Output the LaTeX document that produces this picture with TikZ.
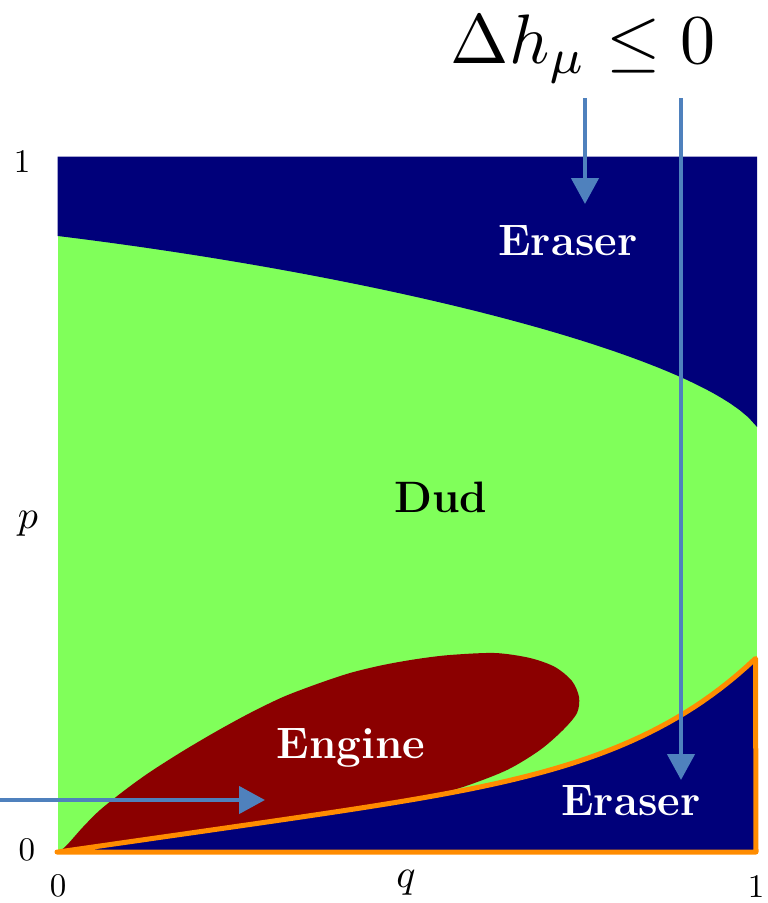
\documentclass[tikz,border=0pt]{standalone}
\usepackage{graphicx}
\usepackage{fontspec}
\usetikzlibrary{arrows.meta}
\definecolor{navyc}{RGB}{0,0,122}
\definecolor{greenc}{RGB}{128,255,90}
\definecolor{enginec}{RGB}{139,0,0}
\definecolor{orangec}{RGB}{255,140,0}
\definecolor{bluec}{RGB}{79,129,189}
\newcommand{\axtext}[1]{\scalebox{3.3}{#1}}
\newcommand{\axvar}[1]{\scalebox{4}{#1}}
\begin{document}
\begin{tikzpicture}[x=1pt,y=-1pt,
  pointer/.style={draw=bluec, line width=4.5pt, -{Triangle[length=26pt,width=27pt]}},
  axlabel/.style={font=\fontsize{10}{12}\selectfont, text=black, inner sep=0pt},
  region/.style={font=\fontsize{44}{50}\selectfont\bfseries, text=white, inner sep=0pt},
  border/.style={draw=orangec, line width=5pt, line join=round, line cap=round}
]
\useasboundingbox (0,0) rectangle (768,903);
% background (Dud)
\fill[greenc] (58,157) rectangle (757,852);
% top eraser
\fill[navyc] (57.5,156.5) -- (757,156.5) --
  plot[domain=1:0, samples=80] ({58+699*\x},{236+86*\x+122*(1-sqrt(1-(\x/1.01)^2))}) -- (57.5,236) -- cycle;
% engine
\fill[enginec] plot[smooth] coordinates
  {(58,852) (66,846) (83,827) (100,810) (125,790) (150,772) (183,751) (217,731) (250,713) (283,697) (317,684) (350,673) (383,665) (417,659) (450,655) (495,653) (530,658) (555,667) (572,681) (579,697) (577,713) (563,730) (540,750) (507,770) (463,787) (420,799)}
  -- plot[domain=0.504:0, samples=40] ({58+698*\x},{852-100*\x-94*\x^6}) -- cycle;
% bottom eraser
\fill[navyc] plot[domain=0:1, samples=80] ({58+698*\x},{852-100*\x-94*\x^6})
  -- (756,852) -- cycle;
% orange border
\draw[border] plot[domain=0:1, samples=80] ({58+698*\x},{852-100*\x-94*\x^6})
  -- (756,852) -- (57,852);
% region labels
\node[region] (er1) at (568,241) {Eraser};
\node[region, text=black] (dud) at (441,497) {Dud};
\node[region] (eng) at (351,748) {Engine};
\node[region] (er2) at (631,801) {Eraser};
% axis labels
\node[axlabel] (y1) at (22,162) {\axtext{1}};
\node[axlabel] (yp) at (28,524) {\axvar{$p$}};
\node[axlabel] (y0) at (27,850) {\axtext{0}};
\node[axlabel] (x0) at (58,886) {\axtext{0}};
\node[axlabel] (xq) at (406,883) {\axvar{$q$}};
\node[axlabel] (x1) at (756,886) {\axtext{1}};
% condition
\node[anchor=base, font=\fontsize{10}{12}\selectfont, inner sep=0pt] (dh) at (583,63) {\scalebox{7}{$\Delta h_\mu \leq 0$}};
% pointers
\coordinate (p1s) at (585,98);
\coordinate (p1e) at (585,204);
\coordinate (p2s) at (681,98);
\coordinate (p2e) at (681,780);
\coordinate (p3s) at (0,800);
\coordinate (p3e) at (265,800);
\draw[pointer] (p1s) -- (p1e);
\draw[pointer] (p2s) -- (p2e);
\draw[pointer] (p3s) -- (p3e);
\end{tikzpicture}
\end{document}
